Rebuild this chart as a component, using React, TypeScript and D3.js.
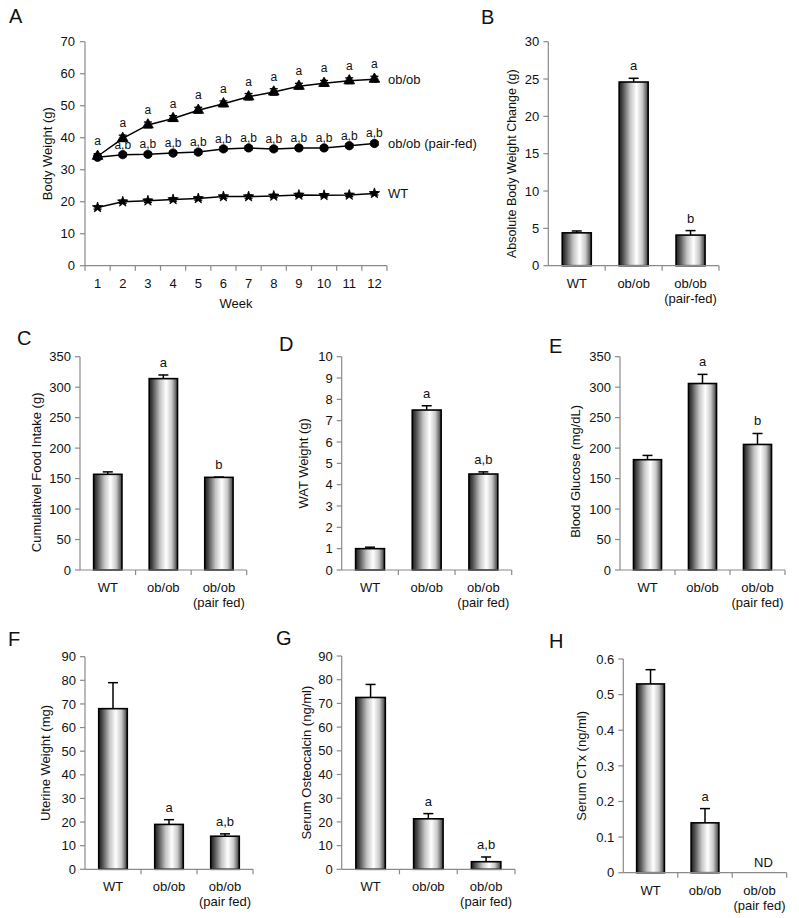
import React from "react";
import * as d3 from "d3";

// ---------- Data ----------
const weeks = ["1", "2", "3", "4", "5", "6", "7", "8", "9", "10", "11", "12"];
const obobWeight = [34.2, 39.8, 44.0, 46.0, 48.6, 50.6, 52.8, 54.3, 56.1, 57.0, 57.8, 58.3];
const obobWeightErr = [0.8, 1.0, 0.9, 0.9, 0.9, 0.9, 1.0, 1.0, 0.9, 0.9, 0.9, 0.9];
const pairFedWeight = [33.9, 34.7, 34.8, 35.2, 35.5, 36.5, 36.8, 36.5, 36.8, 36.8, 37.5, 38.2];
const pairFedWeightErr = [0.6, 0.6, 0.6, 0.6, 0.6, 0.6, 0.6, 0.6, 0.6, 0.6, 0.6, 0.6];
const wtWeight = [18.2, 20.0, 20.3, 20.7, 21.0, 21.6, 21.6, 21.8, 22.1, 22.0, 22.1, 22.6];
const wtWeightErr = [0.5, 0.5, 0.5, 0.5, 0.5, 0.5, 0.5, 0.5, 0.5, 0.5, 0.5, 0.5];
const obobSig = ["a", "a", "a", "a", "a", "a", "a", "a", "a", "a", "a", "a"];
const pairFedSig = ["", "a,b", "a,b", "a,b", "a,b", "a,b", "a,b", "a,b", "a,b", "a,b", "a,b", "a,b"];
const seriesNames = ["ob/ob", "ob/ob (pair-fed)", "WT"];
const weightTicks = [0, 10, 20, 30, 40, 50, 60, 70];

const groupsB = ["WT", "ob/ob", "ob/ob\n(pair-fed)"];
const groups = ["WT", "ob/ob", "ob/ob\n(pair fed)"];

const weightChange = [4.4, 24.6, 4.1];
const weightChangeErr = [0.25, 0.5, 0.6];
const weightChangeSig = ["", "a", "b"];
const weightChangeTicks = [0, 5, 10, 15, 20, 25, 30];

const foodIntake = [157, 314, 152];
const foodIntakeErr = [4, 6, 0.5];
const foodIntakeSig = ["", "a", "b"];
const foodIntakeTicks = [0, 50, 100, 150, 200, 250, 300, 350];

const watWeight = [1.0, 7.5, 4.5];
const watWeightErr = [0.07, 0.2, 0.1];
const watWeightSig = ["", "a", "a,b"];
const watWeightTicks = [0, 1, 2, 3, 4, 5, 6, 7, 8, 9, 10];

const glucose = [181, 306, 206];
const glucoseErr = [7, 15, 18];
const glucoseSig = ["", "a", "b"];
const glucoseTicks = [0, 50, 100, 150, 200, 250, 300, 350];

const uterine = [68, 19, 14];
const uterineErr = [11, 2, 1];
const uterineSig = ["", "a", "a,b"];
const uterineTicks = [0, 10, 20, 30, 40, 50, 60, 70, 80, 90];

const osteocalcin = [72.5, 21.3, 3.2];
const osteocalcinErr = [5.5, 2.2, 2.0];
const osteocalcinSig = ["", "a", "a,b"];
const osteocalcinTicks = [0, 10, 20, 30, 40, 50, 60, 70, 80, 90];

const ctx = [0.53, 0.14, null];
const ctxErr = [0.04, 0.04, 0];
const ctxSig = ["", "a", ""];
const ctxTicks = [0, 0.1, 0.2, 0.3, 0.4, 0.5, 0.6];

// ---------- Style ----------
const FONT = "'Liberation Sans', Arial, Helvetica, sans-serif";
const AXIS = "#8a8a8a";
const TXT = "#111";
const FS = 13;

type BarPanelProps = {
  letter: string;
  letterX: number;
  letterY: number;
  x0: number;
  x1: number;
  yTop: number;
  y0: number;
  max: number;
  ticks: number[];
  tickFmt?: (v: number) => string;
  cats: string[];
  values: (number | null)[];
  errs: number[];
  sig: string[];
  ylabel: string;
  ylabelX: number;
  ylabelDy?: number;
  ylabelFs?: number;
  ndLabel?: string;
};

function BarPanel(p: BarPanelProps) {
  const y = d3.scaleLinear().domain([0, p.max]).range([p.y0, p.yTop]);
  const x = d3.scaleBand().domain(p.cats).range([p.x0, p.x1]).paddingInner(0).paddingOuter(0);
  const bw = x.bandwidth() * 0.51;
  const boundaries = p.cats.map((c) => (x(c) as number) + x.bandwidth());
  const fmt = p.tickFmt || ((v: number) => String(v));
  return (
    <g fontFamily={FONT}>
      <text x={p.letterX} y={p.letterY} fontSize={20} fill={TXT}>{p.letter}</text>
      <line x1={p.x0} x2={p.x0} y1={p.yTop} y2={p.y0} stroke={AXIS} strokeWidth={1.2} />
      {p.ticks.map((t) => (
        <g key={"t" + t}>
          <line x1={p.x0 - 5} x2={p.x0} y1={y(t)} y2={y(t)} stroke={AXIS} strokeWidth={1.2} />
          <text x={p.x0 - 9} y={y(t)} dy="0.36em" textAnchor="end" fontSize={FS} fill={TXT}>{fmt(t)}</text>
        </g>
      ))}
      <text
        transform={`translate(${p.ylabelX},${(p.yTop + p.y0) / 2 + (p.ylabelDy || 0)}) rotate(-90)`}
        textAnchor="middle"
        dy="0.36em"
        fontSize={p.ylabelFs || FS}
        fill={TXT}
      >
        {p.ylabel}
      </text>
      {p.cats.map((c, i) => {
        const v = p.values[i];
        const cx = (x(c) as number) + x.bandwidth() / 2;
        if (v === null || v === undefined) {
          return (
            <text key={c} x={cx + 4} y={p.y0 - 6} textAnchor="middle" fontSize={FS} fill={TXT}>
              {p.ndLabel}
            </text>
          );
        }
        const top = y(v);
        const errTop = y(v + p.errs[i]);
        return (
          <g key={c}>
            {p.errs[i] > 0 && (
              <g stroke="#000" strokeWidth={1.5}>
                <line x1={cx} x2={cx} y1={top} y2={errTop} />
                <line x1={cx - 5} x2={cx + 5} y1={errTop} y2={errTop} />
              </g>
            )}
            <rect x={cx - bw / 2} y={top} width={bw} height={p.y0 - top} fill="url(#barGrad)" stroke="#000" strokeWidth={1.6} />
            {p.sig[i] && (
              <text x={cx} y={Math.min(errTop, top) - 8} textAnchor="middle" fontSize={FS} fill={TXT}>
                {p.sig[i]}
              </text>
            )}
          </g>
        );
      })}
      <line x1={p.x0} x2={p.x1} y1={p.y0} y2={p.y0} stroke={AXIS} strokeWidth={1.2} />
      {boundaries.map((b, i) => (
        <line key={"b" + i} x1={b} x2={b} y1={p.y0} y2={p.y0 + 5} stroke={AXIS} strokeWidth={1.2} />
      ))}
      {p.cats.map((c) => {
        const cx = (x(c) as number) + x.bandwidth() / 2;
        return c.split("\n").map((line, j) => (
          <text key={c + j} x={cx} y={p.y0 + 22 + j * 15} textAnchor="middle" fontSize={FS} fill={TXT}>
            {line}
          </text>
        ));
      })}
    </g>
  );
}

function LinePanel() {
  const x0 = 85, x1 = 387, yTop = 41.7, y0 = 265.7;
  const x = d3.scaleBand().domain(weeks).range([x0, x1]);
  const y = d3.scaleLinear().domain([0, 70]).range([y0, yTop]);
  const cx = (w: string) => (x(w) as number) + x.bandwidth() / 2;
  const line = d3
    .line<number>()
    .x((_, i) => cx(weeks[i]))
    .y((d) => y(d));
  const series = [
    { vals: obobWeight, errs: obobWeightErr, sym: d3.symbolTriangle, size: 50, sig: obobSig, sigOff: 11 },
    { vals: pairFedWeight, errs: pairFedWeightErr, sym: d3.symbolCircle, size: 55, sig: pairFedSig, sigOff: 6 },
    { vals: wtWeight, errs: wtWeightErr, sym: d3.symbolStar, size: 34, sig: null as string[] | null, sigOff: 0 },
  ];
  const boundaries = [x0, ...weeks.map((w) => (x(w) as number) + x.bandwidth())];
  return (
    <g fontFamily={FONT}>
      <text x={9} y={23} fontSize={20} fill={TXT}>A</text>
      <line x1={x0} x2={x0} y1={yTop} y2={y0} stroke={AXIS} strokeWidth={1.2} />
      {weightTicks.map((t) => (
        <g key={t}>
          <line x1={x0 - 5} x2={x0} y1={y(t)} y2={y(t)} stroke={AXIS} strokeWidth={1.2} />
          <text x={x0 - 10} y={y(t)} dy="0.36em" textAnchor="end" fontSize={FS} fill={TXT}>{t}</text>
        </g>
      ))}
      <text transform={`translate(47,${(yTop + y0) / 2}) rotate(-90)`} textAnchor="middle" dy="0.36em" fontSize={FS} fill={TXT}>
        Body Weight (g)
      </text>
      <line x1={x0} x2={x1} y1={y0} y2={y0} stroke={AXIS} strokeWidth={1.2} />
      {boundaries.map((b, i) => (
        <line key={i} x1={b} x2={b} y1={y0} y2={y0 + 5} stroke={AXIS} strokeWidth={1.2} />
      ))}
      {weeks.map((w) => (
        <text key={w} x={cx(w)} y={y0 + 22} textAnchor="middle" fontSize={FS} fill={TXT}>{w}</text>
      ))}
      <text x={(x0 + x1) / 2} y={y0 + 42} textAnchor="middle" fontSize={FS} fill={TXT}>Week</text>
      {series.map((s, si) => (
        <g key={si}>
          <path d={line(s.vals) as string} fill="none" stroke="#000" strokeWidth={1.5} />
          {s.vals.map((v, i) => {
            const px = cx(weeks[i]);
            return (
              <g key={i}>
                <g stroke="#000" strokeWidth={1.3}>
                  <line x1={px} x2={px} y1={y(v - s.errs[i])} y2={y(v + s.errs[i])} />
                  <line x1={px - 4} x2={px + 4} y1={y(v - s.errs[i])} y2={y(v - s.errs[i])} />
                  <line x1={px - 4} x2={px + 4} y1={y(v + s.errs[i])} y2={y(v + s.errs[i])} />
                </g>
                <path
                  transform={`translate(${px},${y(v)})`}
                  d={d3.symbol().type(s.sym).size(s.size)() as string}
                  fill="#000"
                  stroke="#000"
                  strokeWidth={0.8}
                />
                {s.sig && s.sig[i] && (
                  <text x={px} y={y(v) - s.sigOff} textAnchor="middle" fontSize={12} fill={TXT}>
                    {s.sig[i]}
                  </text>
                )}
              </g>
            );
          })}
          <text x={388} y={y(s.vals[s.vals.length - 1]) + 4.5} fontSize={FS} fill={TXT}>{seriesNames[si]}</text>
        </g>
      ))}
    </g>
  );
}

export default function App() {
  return (
    <svg
      width={799}
      height={918}
      viewBox="0 0 799 918"
      style={{ position: "absolute", left: 0, top: 0, background: "#fff" }}
    >
      <defs>
        <linearGradient id="barGrad" x1="0" x2="1" y1="0" y2="0">
          <stop offset="0%" stopColor="#1e1e1e" />
          <stop offset="12%" stopColor="#4a4a4a" />
          <stop offset="38%" stopColor="#c4c4c4" />
          <stop offset="60%" stopColor="#ffffff" />
          <stop offset="80%" stopColor="#c8c8c8" />
          <stop offset="100%" stopColor="#3a3a3a" />
        </linearGradient>
      </defs>
      <rect x={0} y={0} width={799} height={918} fill="#fff" />
      <LinePanel />
      <BarPanel
        letter="B" letterX={481} letterY={24}
        x0={548.3} x1={719} yTop={41.7} y0={265.7} max={30}
        ticks={weightChangeTicks} cats={groupsB}
        values={weightChange} errs={weightChangeErr} sig={weightChangeSig}
        ylabel="Absolute Body Weight Change (g)" ylabelX={511.7} ylabelDy={10} ylabelFs={12.5}
      />
      <BarPanel
        letter="C" letterX={17} letterY={345}
        x0={80} x1={246.7} yTop={356.7} y0={570} max={350}
        ticks={foodIntakeTicks} cats={groups}
        values={foodIntake} errs={foodIntakeErr} sig={foodIntakeSig}
        ylabel="Cumulativel Food Intake (g)" ylabelX={36.7} ylabelDy={9}
      />
      <BarPanel
        letter="D" letterX={279} letterY={350.5}
        x0={341.7} x1={511.7} yTop={356.7} y0={570} max={10}
        ticks={watWeightTicks} cats={groups}
        values={watWeight} errs={watWeightErr} sig={watWeightSig}
        ylabel="WAT Weight (g)" ylabelX={303}
      />
      <BarPanel
        letter="E" letterX={549} letterY={353}
        x0={620} x1={785} yTop={356.7} y0={570} max={350}
        ticks={glucoseTicks} cats={groups}
        values={glucose} errs={glucoseErr} sig={glucoseSig}
        ylabel="Blood Glucose (mg/dL)" ylabelX={575} ylabelDy={8}
      />
      <BarPanel
        letter="F" letterX={8} letterY={646}
        x0={85} x1={253} yTop={656.7} y0={869.3} max={90}
        ticks={uterineTicks} cats={groups}
        values={uterine} errs={uterineErr} sig={uterineSig}
        ylabel="Uterine Weight (mg)" ylabelX={45}
      />
      <BarPanel
        letter="G" letterX={276} letterY={645}
        x0={341.7} x1={515} yTop={656} y0={869.3} max={90}
        ticks={osteocalcinTicks} cats={groups}
        values={osteocalcin} errs={osteocalcinErr} sig={osteocalcinSig}
        ylabel="Serum Osteocalcin (ng/ml)" ylabelX={306.7}
      />
      <BarPanel
        letter="H" letterX={549} letterY={648}
        x0={623.3} x1={786.7} yTop={659} y0={872.7} max={0.6}
        ticks={ctxTicks} tickFmt={(v) => (v === 0 ? "0" : d3.format(".1f")(v))} cats={groups}
        values={ctx} errs={ctxErr} sig={ctxSig}
        ylabel="Serum CTx (ng/ml)" ylabelX={581.7} ndLabel="ND"
      />
    </svg>
  );
}
